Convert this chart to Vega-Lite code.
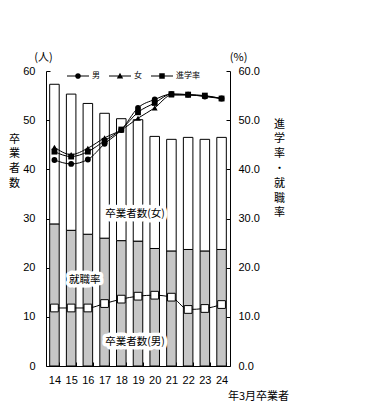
{
  "$schema": "https://vega.github.io/schema/vega-lite/v6.json",
  "width": 184,
  "height": 295,
  "autosize": {"type": "none"},
  "padding": {"left": 46, "top": 71, "right": 136, "bottom": 44},
  "background": "white",
  "config": {
    "view": {"stroke": null},
    "font": "Liberation Sans",
    "axis": {
      "domainColor": "black",
      "tickColor": "black",
      "labelColor": "black",
      "titleColor": "black",
      "grid": false,
      "labelFont": "Liberation Sans",
      "labelFontSize": 11,
      "titleFont": "Noto Sans CJK JP",
      "titleFontWeight": "normal",
      "titleFontSize": 11
    }
  },
  "datasets": {
    "bars": [
      {"year": "14", "sex": "男", "count": 28.9}, {"year": "14", "sex": "女", "count": 28.4},
      {"year": "15", "sex": "男", "count": 27.6}, {"year": "15", "sex": "女", "count": 27.7},
      {"year": "16", "sex": "男", "count": 26.8}, {"year": "16", "sex": "女", "count": 26.6},
      {"year": "17", "sex": "男", "count": 26.0}, {"year": "17", "sex": "女", "count": 25.4},
      {"year": "18", "sex": "男", "count": 25.5}, {"year": "18", "sex": "女", "count": 24.8},
      {"year": "19", "sex": "男", "count": 25.4}, {"year": "19", "sex": "女", "count": 24.7},
      {"year": "20", "sex": "男", "count": 23.9}, {"year": "20", "sex": "女", "count": 22.8},
      {"year": "21", "sex": "男", "count": 23.4}, {"year": "21", "sex": "女", "count": 22.7},
      {"year": "22", "sex": "男", "count": 23.7}, {"year": "22", "sex": "女", "count": 22.8},
      {"year": "23", "sex": "男", "count": 23.4}, {"year": "23", "sex": "女", "count": 22.7},
      {"year": "24", "sex": "男", "count": 23.7}, {"year": "24", "sex": "女", "count": 22.8}
    ],
    "rates": [
      {"year": "14", "series": "男", "rate": 41.9}, {"year": "15", "series": "男", "rate": 41.1},
      {"year": "16", "series": "男", "rate": 42.0}, {"year": "17", "series": "男", "rate": 45.2},
      {"year": "18", "series": "男", "rate": 48.0}, {"year": "19", "series": "男", "rate": 52.5},
      {"year": "20", "series": "男", "rate": 54.2}, {"year": "21", "series": "男", "rate": 55.3},
      {"year": "22", "series": "男", "rate": 55.2}, {"year": "23", "series": "男", "rate": 54.8},
      {"year": "24", "series": "男", "rate": 54.4},
      {"year": "14", "series": "女", "rate": 44.5}, {"year": "15", "series": "女", "rate": 43.0},
      {"year": "16", "series": "女", "rate": 44.3}, {"year": "17", "series": "女", "rate": 46.4},
      {"year": "18", "series": "女", "rate": 48.0}, {"year": "19", "series": "女", "rate": 50.4},
      {"year": "20", "series": "女", "rate": 52.5}, {"year": "21", "series": "女", "rate": 55.1},
      {"year": "22", "series": "女", "rate": 55.1}, {"year": "23", "series": "女", "rate": 54.9},
      {"year": "24", "series": "女", "rate": 54.4},
      {"year": "14", "series": "進学率", "rate": 43.6}, {"year": "15", "series": "進学率", "rate": 42.6},
      {"year": "16", "series": "進学率", "rate": 43.6}, {"year": "17", "series": "進学率", "rate": 45.8},
      {"year": "18", "series": "進学率", "rate": 48.1}, {"year": "19", "series": "進学率", "rate": 51.6},
      {"year": "20", "series": "進学率", "rate": 53.5}, {"year": "21", "series": "進学率", "rate": 55.3},
      {"year": "22", "series": "進学率", "rate": 55.2}, {"year": "23", "series": "進学率", "rate": 55.0},
      {"year": "24", "series": "進学率", "rate": 54.4},
      {"year": "14", "series": "就職率", "rate": 11.8}, {"year": "15", "series": "就職率", "rate": 11.8},
      {"year": "16", "series": "就職率", "rate": 11.8}, {"year": "17", "series": "就職率", "rate": 12.7},
      {"year": "18", "series": "就職率", "rate": 13.6}, {"year": "19", "series": "就職率", "rate": 14.2},
      {"year": "20", "series": "就職率", "rate": 14.4}, {"year": "21", "series": "就職率", "rate": 14.0},
      {"year": "22", "series": "就職率", "rate": 11.5}, {"year": "23", "series": "就職率", "rate": 11.7},
      {"year": "24", "series": "就職率", "rate": 12.5}
    ],
    "notes": [
      {"year": "19", "value": 30.9, "label": "卒業者数(女)"},
      {"year": "16", "value": 17.5, "label": "就職率"},
      {"year": "19", "value": 4.9, "label": "卒業者数(男)"}
    ],
    "unitLeft": [{"year": "14", "value": 62.6, "label": "(人)"}],
    "unitRight": [{"year": "24", "value": 62.6, "label": "(%)"}]
  },
  "layer": [
    {
      "data": {"name": "bars"},
      "mark": {"type": "bar", "stroke": "black", "strokeWidth": 1},
      "encoding": {
        "x": {
          "field": "year", "type": "ordinal",
          "scale": {"paddingInner": 0.43, "paddingOuter": 0.22},
          "axis": {
            "labelAngle": 0, "tickBand": "extent", "tickSize": -4, "labelPadding": 12,
            "title": "年3月卒業者", "titleX": 212, "titleY": 30,
            "titleAlign": "center", "titleBaseline": "middle", "titleFontSize": 11
          }
        },
        "y": {
          "field": "count", "type": "quantitative", "stack": "zero",
          "scale": {"domain": [0, 60], "nice": false},
          "axis": {
            "values": [0, 10, 20, 30, 40, 50, 60], "tickSize": -4, "labelPadding": 15,
            "title": ["卒", "業", "者", "数"], "titleAngle": 0, "titleX": -32, "titleY": 62,
            "titleAlign": "center", "titleBaseline": "top", "titleLineHeight": 14.7
          }
        },
        "fill": {
          "field": "sex", "type": "nominal",
          "scale": {"domain": ["男", "女"], "range": ["#c6c6c6", "white"]},
          "legend": null
        },
        "order": {"field": "sex", "sort": "descending"}
      }
    },
    {
      "data": {"name": "rates"},
      "encoding": {
        "x": {"field": "year", "type": "ordinal"},
        "y": {
          "field": "rate", "type": "quantitative",
          "scale": {"domain": [0, 60], "nice": false},
          "axis": {
            "orient": "right", "format": ".1f", "values": [0, 10, 20, 30, 40, 50, 60],
            "tickSize": -4, "labelPadding": 12,
            "title": ["進", "学", "率", "・", "就", "職", "率"], "titleAngle": 0,
            "titleX": 49, "titleY": 47, "titleAlign": "center", "titleBaseline": "top",
            "titleLineHeight": 14.8
          }
        }
      },
      "layer": [
        {
          "mark": {"type": "line", "color": "black", "strokeWidth": 1, "interpolate": "monotone"},
          "encoding": {"detail": {"field": "series", "type": "nominal"}}
        },
        {
          "transform": [{"filter": "datum.series !== '就職率'"}],
          "mark": {"type": "point", "filled": true, "color": "black", "opacity": 1, "size": 34},
          "encoding": {
            "shape": {
              "field": "series", "type": "nominal",
              "scale": {"domain": ["男", "女", "進学率"], "range": ["circle", "triangle-up", "square"]},
              "legend": null
            }
          }
        },
        {
          "transform": [{"filter": "datum.series === '就職率'"}],
          "mark": {"type": "square", "filled": true, "fill": "white", "stroke": "black", "strokeWidth": 1, "size": 60, "opacity": 1}
        },
        {
          "transform": [{"filter": "datum.series !== '就職率'"}],
          "mark": {"type": "point", "filled": true, "color": "black", "opacity": 0, "size": 484},
          "encoding": {
            "shape": {
              "field": "series", "type": "nominal",
              "scale": {
                "domain": ["男", "女", "進学率"],
                "range": [
                  "M-1,-0.05L1,-0.05L1,0.05L-1,0.05ZM0.26,0A0.26,0.26,0,1,1,-0.26,0A0.26,0.26,0,1,1,0.26,0Z",
                  "M-1,-0.05L1,-0.05L1,0.05L-1,0.05ZM0,-0.3L0.29,0.22L-0.29,0.22Z",
                  "M-1,-0.05L1,-0.05L1,0.05L-1,0.05ZM-0.25,-0.25L0.25,-0.25L0.25,0.25L-0.25,0.25Z"
                ]
              },
              "legend": {
                "orient": "none", "legendX": 21, "legendY": -6, "direction": "horizontal",
                "title": null, "padding": 0, "labelFont": "Noto Sans CJK JP", "labelFontSize": 8,
                "labelColor": "black", "labelOffset": 3, "columnPadding": 9,
                "symbolSize": 484, "symbolStrokeWidth": 0,
                "symbolFillColor": "black", "symbolOpacity": 1,
                "encode": {
                  "symbols": {
                    "update": {
                      "opacity": {"value": 1},
                      "fill": {"value": "black"},
                      "fillOpacity": {"value": 1}
                    }
                  }
                }
              }
            }
          }
        }
      ],
      "resolve": {"scale": {"shape": "independent"}}
    },
    {
      "data": {"name": "notes"},
      "encoding": {
        "x": {"field": "year", "type": "ordinal"},
        "y": {"field": "value", "type": "quantitative", "scale": {"domain": [0, 60], "nice": false}, "axis": null},
        "text": {"field": "label", "type": "nominal"}
      },
      "layer": [
        {"mark": {"type": "text", "font": "Noto Sans CJK JP", "fontSize": 10.5, "dx": -3, "baseline": "middle", "align": "center", "color": "white", "stroke": "white", "strokeWidth": 7, "strokeJoin": "round"}},
        {"mark": {"type": "text", "font": "Noto Sans CJK JP", "fontSize": 10.5, "dx": -3, "baseline": "middle", "align": "center", "color": "black"}}
      ]
    },
    {
      "data": {"name": "unitLeft"},
      "mark": {"type": "text", "font": "Noto Sans CJK JP", "fontSize": 11, "dx": -11, "baseline": "middle", "align": "center", "color": "black", "clip": false},
      "encoding": {
        "x": {"field": "year", "type": "ordinal"},
        "y": {"field": "value", "type": "quantitative", "scale": {"domain": [0, 60], "nice": false}, "axis": null},
        "text": {"field": "label", "type": "nominal"}
      }
    },
    {
      "data": {"name": "unitRight"},
      "mark": {"type": "text", "font": "Noto Sans CJK JP", "fontSize": 11, "dx": 17, "baseline": "middle", "align": "center", "color": "black", "clip": false},
      "encoding": {
        "x": {"field": "year", "type": "ordinal"},
        "y": {"field": "value", "type": "quantitative", "scale": {"domain": [0, 60], "nice": false}, "axis": null},
        "text": {"field": "label", "type": "nominal"}
      }
    }
  ],
  "resolve": {"scale": {"y": "independent"}}
}
